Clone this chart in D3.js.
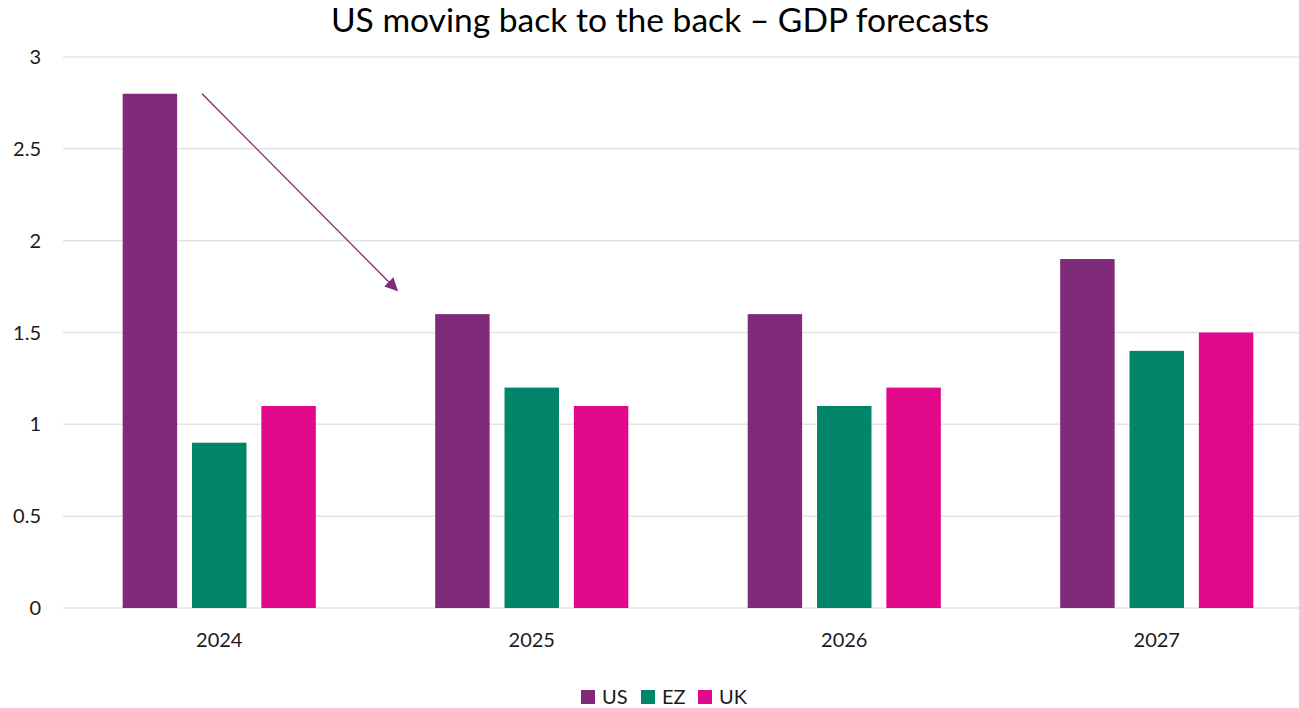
<!DOCTYPE html>
<html><head><meta charset="utf-8">
<script src="https://cdn.jsdelivr.net/npm/d3@7"></script>
<style>body{margin:0;background:#fff;} svg{display:block;font-family:Lato, "Open Sans", sans-serif;}</style>
</head><body>
<svg id="chart" width="1299" height="708"></svg>
<script>
const categories = ["2024","2025","2026","2027"];
const seriesNames = ["US","EZ","UK"];
const usValues = [2.8, 1.6, 1.6, 1.9];
const ezValues = [0.9, 1.2, 1.1, 1.4];
const ukValues = [1.1, 1.1, 1.2, 1.5];
const yTicks = [0, 0.5, 1, 1.5, 2, 2.5, 3];
const colors = ["#7F2A7A", "#00856A", "#E1098A"];
const title = "US moving back to the back \u2013 GDP forecasts";

const svg = d3.select("#chart");
const x = d3.scaleBand().domain(categories).range([63, 1313]).paddingInner(0).paddingOuter(0);
const y = d3.scaleLinear().domain([0, 3]).range([608, 57]);
const groupW = x.bandwidth() * 0.618;
const x1 = d3.scaleBand().domain(seriesNames).range([0, groupW]).paddingInner(0.215).paddingOuter(0);
const values = [usValues, ezValues, ukValues];

// gridlines
svg.append("g").selectAll("line").data(yTicks).join("line")
  .attr("x1", 63).attr("x2", 1299)
  .attr("y1", d => y(d)).attr("y2", d => y(d))
  .attr("stroke", "#e4e4e4").attr("stroke-width", 1.5);

// y labels
svg.append("g").selectAll("text").data(yTicks).join("text")
  .attr("x", 41).attr("y", d => y(d)).attr("dy", "0.35em")
  .attr("text-anchor", "end").attr("font-size", 20).attr("fill", "#1a1a1a")
  .text(d => d);

// bars
const rows = [];
categories.forEach((c, i) => seriesNames.forEach((s, j) => rows.push({c, s, j, v: values[j][i]})));
svg.append("g").selectAll("rect").data(rows).join("rect")
  .attr("x", d => x(d.c) + (x.bandwidth() - groupW) / 2 + x1(d.s))
  .attr("width", x1.bandwidth())
  .attr("y", d => y(d.v)).attr("height", d => y(0) - y(d.v))
  .attr("fill", d => colors[d.j]);

// x labels
svg.append("g").selectAll("text").data(categories).join("text")
  .attr("x", d => x(d) + x.bandwidth() / 2).attr("y", 640).attr("dy", "0.35em")
  .attr("text-anchor", "middle").attr("font-size", 20).attr("fill", "#1a1a1a")
  .text(d => d);

// title
svg.append("text").attr("x", 660).attr("y", 20).attr("dy", "0.35em")
  .attr("text-anchor", "middle").attr("font-size", 33.6).attr("fill", "#000")
  .text(title);

// arrow annotation (data units)
const arrowFrom = {cat: "2024", frac: 0.445, value: 2.8};
const arrowTo = {cat: "2024", frac: 1.069, value: 1.73};
svg.append("defs").append("marker").attr("id", "ah")
  .attr("viewBox", "0 0 10 10").attr("refX", 9).attr("refY", 5)
  .attr("markerWidth", 15).attr("markerHeight", 13).attr("markerUnits", "userSpaceOnUse")
  .attr("orient", "auto")
  .append("path").attr("d", "M0,0 L10,5 L0,10 z").attr("fill", colors[0]);
svg.append("line")
  .attr("x1", x(arrowFrom.cat) + x.bandwidth() * arrowFrom.frac).attr("y1", y(arrowFrom.value))
  .attr("x2", x(arrowTo.cat) + x.bandwidth() * arrowTo.frac).attr("y2", y(arrowTo.value))
  .attr("stroke", colors[0]).attr("stroke-width", 1.3)
  .attr("marker-end", "url(#ah)");

// legend
const legendX = [581, 641, 698];
const lg = svg.append("g").selectAll("g").data(seriesNames).join("g")
  .attr("transform", (d, i) => `translate(${legendX[i]},690)`);
lg.append("rect").attr("width", 14).attr("height", 14).attr("fill", (d, i) => colors[i]);
lg.append("text").attr("x", 21).attr("y", 7).attr("dy", "0.36em")
  .attr("font-size", 20).attr("fill", "#1a1a1a").text(d => d);
</script>
</body></html>
